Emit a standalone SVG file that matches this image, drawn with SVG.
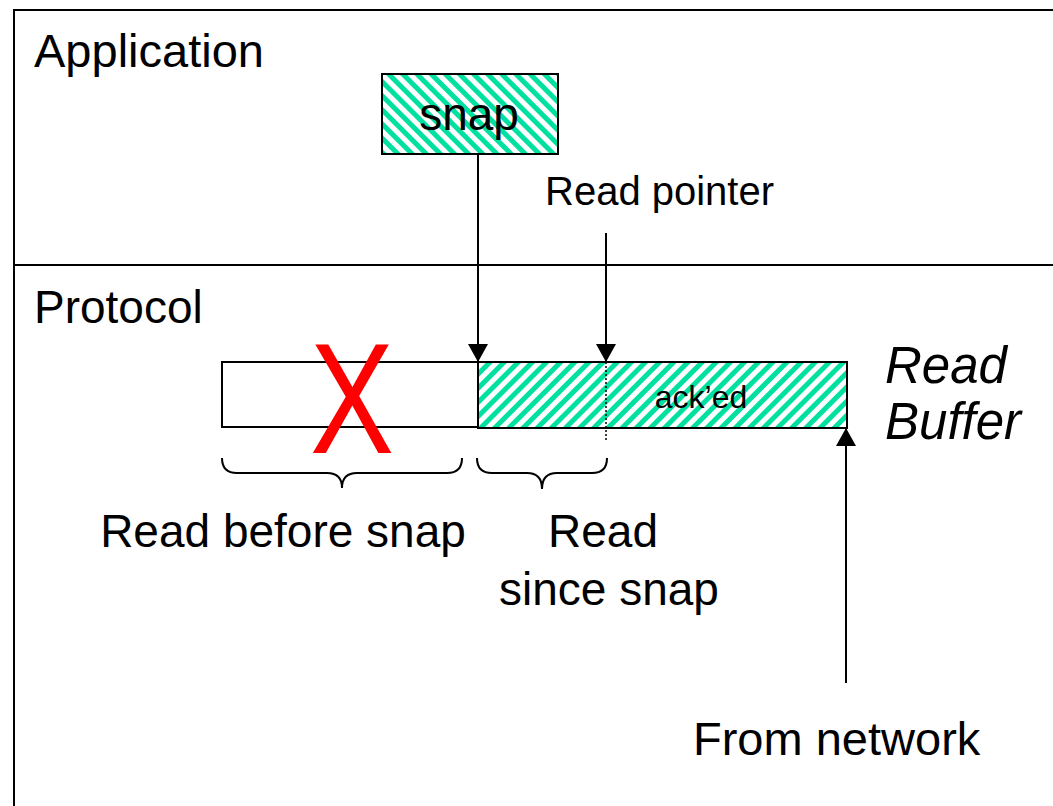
<svg xmlns="http://www.w3.org/2000/svg" width="1053" height="806" viewBox="0 0 1053 806">
<style>
.t{font-family:"Liberation Sans",Arial,sans-serif;fill:#000}
.ln{stroke:#000;stroke-width:2;fill:none}
.box{stroke:#000;stroke-width:2}
</style>
<defs>
<pattern id="hatchUp" patternUnits="userSpaceOnUse" width="10" height="10" patternTransform="rotate(45)">
<rect width="10" height="10" fill="#fff"/>
<rect width="5" height="10" fill="#00E0A0"/>
</pattern>
<pattern id="hatchDown" patternUnits="userSpaceOnUse" width="10" height="10" patternTransform="rotate(-45)">
<rect width="10" height="10" fill="#fff"/>
<rect width="5" height="10" fill="#00E0A0"/>
</pattern>
<marker id="arr" viewBox="0 0 18 20" refX="18" refY="10" markerWidth="18" markerHeight="20" markerUnits="userSpaceOnUse" orient="auto">
<path d="M0,0 L18,10 L0,20 Z" fill="#000"/>
</marker>
</defs>
<rect width="1053" height="806" fill="#fff"/>
<g id="frame">
<path class="ln" d="M14,806 L14,10 L1053,10 M14,265 L1053,265"/>
<text class="t" x="34" y="67" font-size="47">Application</text>
<text class="t" x="34" y="323" font-size="46">Protocol</text>
</g>
<g id="snap">
<rect class="box" x="382" y="74" width="176" height="80" fill="url(#hatchDown)"/>
<text class="t" x="469" y="130" font-size="46" text-anchor="middle">snap</text>
</g>
<g id="buffer-old">
<rect class="box" x="222" y="362" width="256" height="65" fill="#fff"/>
<text x="352" y="453" font-family="Liberation Sans,Arial,sans-serif" font-size="158" fill="#FF0000" text-anchor="middle" textLength="84" lengthAdjust="spacingAndGlyphs">X</text>
</g>
<g id="buffer-new">
<rect class="box" x="478" y="362" width="369" height="66" fill="url(#hatchUp)"/>
<line x1="606" y1="362" x2="606" y2="441" stroke="#000" stroke-width="1.5" stroke-dasharray="2,2"/>
<text class="t" x="701" y="408" font-size="32" text-anchor="middle">ack’ed</text>
</g>
<g id="read-buffer-label">
<text class="t" x="885" y="383" font-size="51" font-style="italic">Read</text>
<text class="t" x="885" y="439" font-size="51" font-style="italic">Buffer</text>
</g>
<g id="read-pointer">
<text class="t" x="545" y="205" font-size="40">Read pointer</text>
</g>
<g id="brace-before">
<path class="ln" d="M222,458 Q222,473 237,473 L327,473 Q342,473 342,488 Q342,473 357,473 L447,473 Q462,473 462,458"/>
<text class="t" x="283" y="547" font-size="46" text-anchor="middle">Read before snap</text>
</g>
<g id="brace-since">
<path class="ln" d="M477,458 Q477,473 492,473 L527,473 Q542,473 542,489 Q542,473 557,473 L592,473 Q607,473 607,458"/>
<text class="t" x="603" y="547" font-size="46" text-anchor="middle">Read</text>
<text class="t" x="609" y="605" font-size="46" text-anchor="middle">since snap</text>
</g>
<g id="network">
<text class="t" x="693" y="755" font-size="47">From network</text>
</g>
<g id="connectors">
<line class="ln" x1="478" y1="154" x2="478" y2="362" marker-end="url(#arr)"/>
<line class="ln" x1="606" y1="233" x2="606" y2="362" marker-end="url(#arr)"/>
<line class="ln" x1="846" y1="683" x2="846" y2="428" marker-end="url(#arr)"/>
</g>
</svg>
